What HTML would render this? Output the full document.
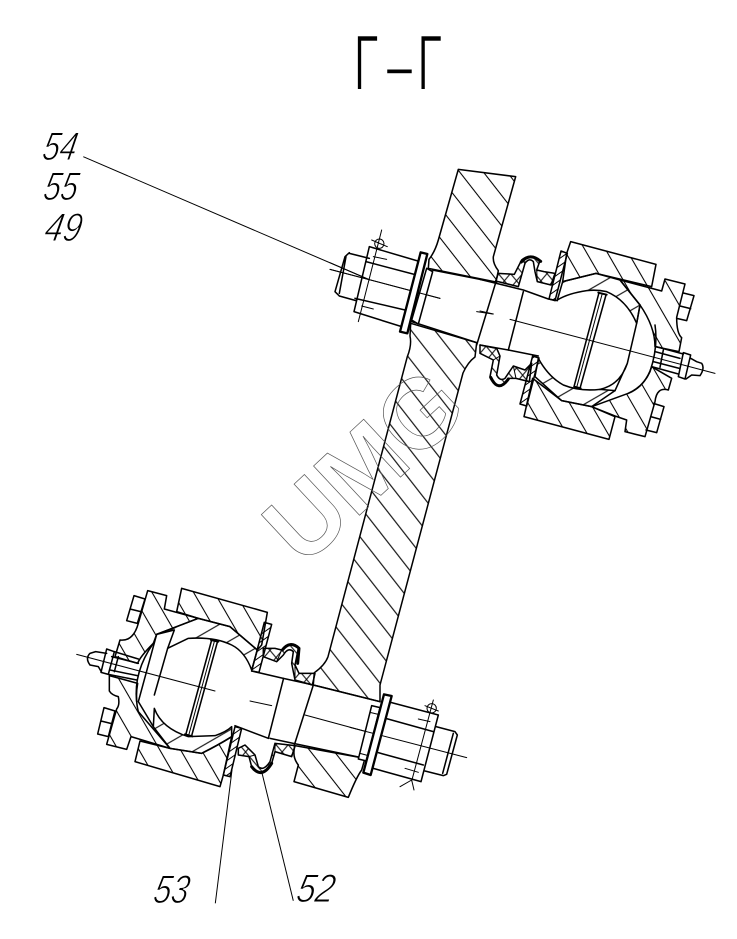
<!DOCTYPE html>
<html><head><meta charset="utf-8"><style>
html,body{margin:0;padding:0;background:#fff}
svg{display:block}
text{font-family:"Liberation Sans",sans-serif}
.m{stroke:#000;stroke-width:4.6;fill:none;stroke-linejoin:round;stroke-linecap:round}
.t{stroke-width:3}
.b{stroke-width:9}
.w{fill:#fff}
.lab{font-style:italic;font-size:40px;fill:#000;stroke:#fff;stroke-width:1}
</style></head><body>
<svg width="737" height="939" viewBox="0 0 737 939" xmlns="http://www.w3.org/2000/svg">
<defs>
<pattern id="a" patternUnits="userSpaceOnUse" width="56" height="56" patternTransform="rotate(-38)"><line x1="28" y1="-1" x2="28" y2="57" stroke="#000" stroke-width="3.2"/></pattern>
<pattern id="ag" patternUnits="userSpaceOnUse" width="18.6" height="18.6" patternTransform="rotate(-38)"><line x1="9" y1="-1" x2="9" y2="20" stroke="#000" stroke-width="1.1"/></pattern>
<pattern id="c" patternUnits="userSpaceOnUse" width="54" height="54" patternTransform="rotate(-30)"><line x1="27" y1="-1" x2="27" y2="55" stroke="#000" stroke-width="3.2"/></pattern>
<pattern id="l" patternUnits="userSpaceOnUse" width="58" height="58" patternTransform="rotate(60)"><line x1="29" y1="-1" x2="29" y2="59" stroke="#000" stroke-width="3.2"/></pattern>
<pattern id="x1" patternUnits="userSpaceOnUse" width="28" height="28" patternTransform="rotate(-40)"><line x1="14" y1="-1" x2="14" y2="29" stroke="#000" stroke-width="3"/></pattern>
<pattern id="x2" patternUnits="userSpaceOnUse" width="28" height="28" patternTransform="rotate(40)"><line x1="14" y1="-1" x2="14" y2="29" stroke="#000" stroke-width="3"/></pattern>
<pattern id="r" patternUnits="userSpaceOnUse" width="18" height="18" patternTransform="rotate(55)"><line x1="9" y1="-1" x2="9" y2="19" stroke="#000" stroke-width="3"/></pattern>
</defs>
<rect width="737" height="939" fill="#fff"/>

<!-- title -->
<g font-size="79" fill="#000" stroke="#fff" stroke-width="1.6">
<text transform="translate(353.6,90) scale(.58,1)">Г</text>
<text transform="translate(386.7,91.7) scale(.58,1)">–</text>
<text transform="translate(417.3,90) scale(.58,1)">Г</text>
</g>

<!-- labels -->
<g class="lab">
<text transform="translate(41,160) skewX(-11) scale(.76,1)">54</text>
<text transform="translate(42,200) skewX(-11) scale(.76,1)">55</text>
<text transform="translate(43,241) skewX(-11) scale(.82,1)">49</text>
<text transform="translate(152,903) skewX(-11) scale(.78,1)">53</text>
<text transform="translate(295,902) skewX(-11) scale(.84,1)">52</text>
</g>

<!-- arm, global coordinates -->
<path d="M410.7,323.3 L476.7,342.7 L475,357 Q468,362 463,373 L380,685 L380,701.7 L313.3,685 L314.3,672.7 Q325,665 328,656.7 L407.3,356.7 Q412,345 410,336Z" fill="url(#ag)" stroke="#000" stroke-width="1.5" stroke-linejoin="round"/>

<!-- upper arm top + boot left -->
<g transform="translate(320,160) scale(.33333)">
<path class="m" style="fill:url(#a)" d="M415,28 L587,50 L520,290 Q518,310 535,332 L528,366 L325,325 L327,298 Q345,275 355,240Z"/>
<path class="m" d="M337,330 L530,368"/>
<path class="m" d="M275,485 L470,548"/>
<path class="m t" d="M470,455 L518,462"/>
<path class="m" d="M528,365 L470,555"/>
</g>

<!-- upper nut side -->
<g transform="translate(330,230) scale(.33333)">
<path class="m t" d="M0,118 L330,205 M0,98 L120,150"/>
<path class="m" d="M58,68 L45,80 L15,185 L28,198 M58,70 L118,85 M28,198 L78,212 M48,80 L28,190"/>
<path class="m" d="M118,50 L72,245 L215,290 M118,50 L270,95"/>
<path class="m" d="M108,95 L260,135 M75,205 L225,240"/>
<path class="m t" d="M130,80 L170,88 M95,228 L130,237 M155,0 L85,275 M125,30 L172,50"/>
<circle class="m t" cx="148" cy="41" r="14"/>
<path class="m w" style="fill:#fff" d="M290,115 L308,125 L265,282 L245,270Z"/>
<path class="m t" d="M0,118 L330,205"/>
<path class="m w b" style="fill:#fff;stroke-width:7" d="M272,67 L292,72 L232,310 L210,305Z"/>
</g>

<!-- upper joint -->
<g transform="translate(480,230) scale(.33333)">
<path class="m" style="fill:url(#c)" d="M272,35 L528,103 L515,170 L348,130 L248,155 L260,70Z"/>
<path class="m" style="fill:url(#l)" d="M232,210 Q265,190 320,182 Q350,178 380,185 Q440,210 470,280 L480,225 L420,150 L348,130 L248,155Z"/>
<path class="m" style="fill:url(#c)" d="M420,150 L545,183 L555,147 L615,162 L590,262 Q590,310 605,323 L597,365 L525,350 Q525,290 480,225Z"/>
<path class="m" style="fill:url(#c)" d="M515,410 L575,445 L565,480 Q530,470 525,515 L495,620 L435,605 L440,570 L405,558 L335,530 L445,490 Q495,470 515,410Z"/>
<path class="m" style="fill:url(#c)" d="M158,445 L132,560 L387,628 L405,560 L335,530 L245,512 Z"/>
<path class="m" style="fill:url(#l)" d="M165,440 L175,385 Q205,440 250,465 Q300,485 360,478 L405,482 L335,530 L245,512Z"/>
<path class="m" style="fill:url(#r)" d="M243,63 L262,70 L225,212 L207,207Z"/>
<path class="m" style="fill:url(#r)" d="M158,378 L177,384 L140,528 L120,522Z"/>
<path class="m" d="M0,148 L130,180 L205,207 L232,212 M85,360 L175,378 M0,345 L85,360"/>
<path class="m" d="M130,185 L85,360"/>
<path class="m" d="M470,280 L442,400 Q420,465 360,478 M480,225 L470,280 M442,400 L405,482"/>
<path class="m" d="M525,285 Q535,350 510,425 Q490,470 445,490"/>
<path class="m" d="M357,188 L282,470 M378,195 L300,475"/>
<path class="m t" d="M367,190 L290,472"/>
<path class="m" style="stroke-width:6" d="M355,188 L380,194 M283,470 L302,475"/>
<path class="m" d="M528,350 L610,372 M515,410 L595,432 M525,365 L600,385 M520,395 L598,415 M550,360 L540,412"/>
<path class="m" d="M610,368 L632,375 L615,447 L595,440Z"/>
<path class="m" d="M632,385 L650,395 L665,400 Q675,415 660,437 L635,435 L618,447"/>
<path class="m" d="M610,189 L642,197 L620,272 L590,265 M600,228 L632,236"/>
<path class="m" d="M520,520 L552,530 L530,608 L498,600 M512,560 L542,568"/>
<path class="m t" d="M90,268 L705,430 M0,243 L40,252"/>
<!-- boots -->
<path class="m" style="fill:url(#x1)" d="M47,153 L55,130 L103,133 L125,90 Q150,68 180,92 L170,120 L192,125 L225,130 L213,165 L172,155 L165,125 L160,95 Q148,82 135,100 L115,170Z"/>
<path class="m t" style="fill:url(#x2)" d="M47,153 L55,130 L103,133 L125,90 L135,100 L115,170Z"/>
<path class="m t" style="fill:url(#x2)" d="M170,120 L192,125 L225,130 L213,165 L172,155Z"/>
<path class="m" style="stroke-width:9" d="M124,96 Q150,66 182,94"/>
<path class="m" style="fill:url(#x1)" d="M0,345 L50,355 L60,378 L50,435 Q60,455 75,445 L100,408 L135,420 L155,400 L148,455 L108,445 L85,445 Q55,490 30,440 L40,390 L0,370Z"/>
<path class="m t" style="fill:url(#x2)" d="M0,345 L50,355 L60,378 L40,390 L0,370Z"/>
<path class="m t" style="fill:url(#x2)" d="M100,408 L135,420 L155,400 L148,455 L108,445Z"/>
<path class="m" style="stroke-width:9" d="M32,442 Q55,490 85,447"/>
</g>

<!-- lower shaft end piece -->
<g transform="translate(70,580) scale(.33333)">
<path class="m" style="fill:url(#a)" d="M675,497 L885,535 L875,570 Q860,590 835,652 L672,605 L685,555 Q665,530 675,497Z"/>
<path class="m" d="M640,295 L730,315 L930,365 M600,475 L670,490 L885,535"/>
<path class="m" d="M640,298 L595,475 M730,315 L672,498"/>
<path class="m t" d="M705,405 L900,458"/>
</g>

<!-- lower nut side -->
<g transform="translate(350,685) scale(.33333)">
<path class="m w" style="fill:#fff" d="M65,62 L90,68 L50,228 L25,222Z"/>
<path class="m t" d="M60,82 L85,88 M30,205 L55,212"/>
<path class="m" d="M122,52 L265,90 L213,290 L62,248"/>
<path class="m" d="M258,125 L315,140 L322,150 L290,268 L280,272 L225,258 M310,145 L278,265"/>
<path class="m" d="M107,100 L250,140 M85,203 L220,240"/>
<path class="m t" d="M205,102 L240,110 M165,250 L205,262 M250,45 L185,288 M150,305 L185,285 L192,315 M225,62 L265,78"/>
<circle class="m t" cx="245" cy="70" r="14"/>
<path class="m t" d="M0,127 L350,218"/>
<path class="m w" style="fill:#fff;stroke-width:7" d="M102,28 L125,33 L62,270 L40,263Z"/>
</g>

<!-- lower joint -->
<g transform="translate(75,585) scale(.33333)">
<path class="m" style="fill:url(#c)" d="M320,10 L577,82 L560,180 L547,195 L465,125 L370,100 L305,80Z"/>
<path class="m" style="fill:url(#l)" d="M245,148 L370,100 L465,125 L547,195 L530,255 Q510,200 470,180 Q420,155 340,160 L278,190 L298,135Z"/>
<path class="m" style="fill:url(#c)" d="M218,17 L275,32 L268,72 L370,100 L245,148 L235,175 Q195,215 188,235 L120,215 L135,165 Q175,170 190,115Z"/>
<path class="m" style="fill:url(#c)" d="M103,272 L188,295 Q180,340 190,380 L285,490 L168,455 L155,493 L95,478 L125,372 Q135,360 130,335 Q110,330 103,318Z"/>
<path class="m" style="fill:url(#c)" d="M195,468 L285,490 L380,505 Q430,480 470,455 L445,570 L435,605 L180,530Z"/>
<path class="m" style="fill:url(#l)" d="M238,370 Q260,430 340,455 L420,452 Q455,440 470,425 L470,455 Q430,480 380,505 L285,490 L235,425Z"/>
<path class="m" style="fill:url(#r)" d="M568,112 L590,118 L552,262 L530,258Z"/>
<path class="m" style="fill:url(#r)" d="M480,425 L500,430 L465,575 L445,570Z"/>
<path class="m" d="M530,258 L625,280 M480,422 L580,460"/>
<path class="m" d="M245,148 L190,350 L235,425 M278,190 L238,330"/>
<path class="m" d="M235,175 Q175,260 185,350"/>
<path class="m" d="M410,165 L332,450 M428,168 L350,452"/>
<path class="m t" d="M419,166 L341,451"/>
<path class="m" style="stroke-width:6" d="M408,165 L430,170 M330,448 L352,454"/>
<path class="m" d="M177,32 L210,42 L187,115 L155,107Z M165,72 L197,80"/>
<path class="m" d="M87,368 L120,378 L100,455 L68,447Z M78,408 L110,416"/>
<path class="m" d="M95,192 L118,200 L100,268 L78,262Z"/>
<path class="m" d="M95,205 L62,200 L45,205 Q30,220 45,240 L70,245 L80,262"/>
<path class="m" d="M118,200 L190,222 M100,268 L185,285 M110,215 L190,235 M105,255 L187,272 M130,215 L118,260"/>
<path class="m t" d="M5,208 L420,318 M525,348 L590,362"/>
<!-- boots -->
<path class="m" style="fill:url(#x1)" d="M565,190 L600,190 L620,195 Q640,165 670,190 L660,240 L672,265 L720,265 L712,300 L660,285 L650,235 L655,200 Q640,185 625,210 L605,230 L565,215Z"/>
<path class="m t" style="fill:url(#x2)" d="M565,190 L600,190 L620,195 L605,230 L565,215Z"/>
<path class="m t" style="fill:url(#x2)" d="M660,240 L672,265 L720,265 L712,300 L660,285Z"/>
<path class="m" style="stroke-width:9" d="M622,195 Q645,165 672,190 L668,235"/>
<path class="m" style="fill:url(#x1)" d="M490,490 L510,480 L540,510 L550,545 Q565,560 585,530 L600,475 L660,482 L650,515 L600,500 L590,535 Q560,585 530,545 L522,515 L490,510Z"/>
<path class="m t" style="fill:url(#x2)" d="M600,475 L660,482 L650,515 L600,500Z"/>
<path class="m t" style="fill:url(#x2)" d="M490,490 L510,480 L540,510 L522,515 L490,510Z"/>
<path class="m" style="stroke-width:9" d="M530,545 Q560,585 590,535"/>
</g>

<!-- leaders -->
<g stroke="#000" stroke-width="1" fill="none">
<line x1="83.3" y1="156.7" x2="370" y2="280"/>
<line x1="232" y1="770" x2="215.3" y2="903.3"/>
<line x1="262" y1="773" x2="293.3" y2="900.7"/>
</g>

<!-- watermark -->
<text transform="translate(303,568) rotate(-43)" font-size="98" font-weight="bold" fill="none" stroke="#555" stroke-width=".7">UMG</text>
</svg>
</body></html>
